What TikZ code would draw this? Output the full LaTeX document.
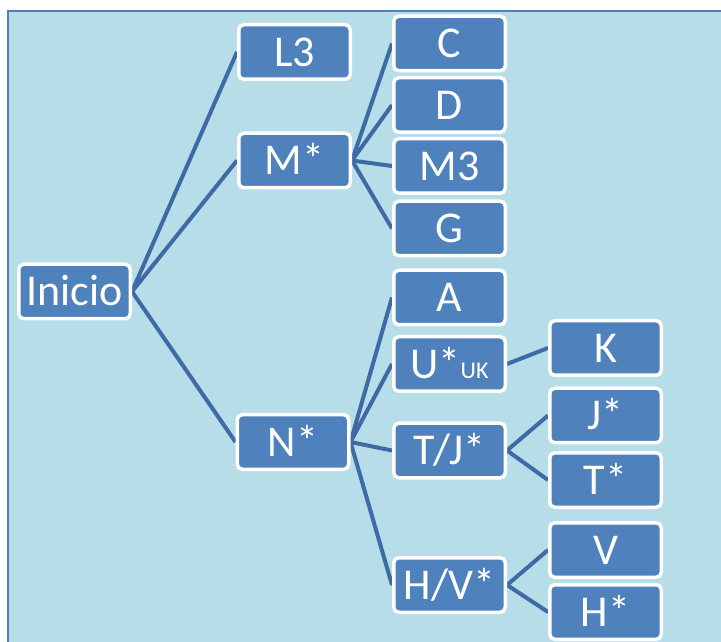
\documentclass[tikz,border=0pt]{standalone}
\usepackage{fontspec}
\setmainfont{Carlito}
\definecolor{bgc}{RGB}{183,221,232}
\definecolor{boxc}{RGB}{79,129,189}
\definecolor{linec}{RGB}{62,106,166}
\pgfdeclarelayer{bglayer}
\pgfdeclarelayer{linelayer}
\pgfsetlayers{bglayer,linelayer,main}
\begin{document}
\begin{tikzpicture}[x=1pt,y=1pt,
  box/.style={draw=white, line width=3.5pt, fill=boxc, rounded corners=5pt,
    text=white, font=\fontsize{44}{50}\selectfont,
    minimum width=111.5pt, minimum height=54.5pt, inner sep=0pt,
    text height=28.3pt, text depth=0pt},
  conn/.style={draw=linec, line width=4pt}]
\useasboundingbox (0,0) rectangle (721,641);
\clip (0,0) rectangle (721,641);
\begin{pgfonlayer}{bglayer}
\draw[fill=bgc, draw=boxc, line width=2pt] (8,-20) rectangle (740,630);
\end{pgfonlayer}
\node[box] (ini) at (74.5,349.5) {Inicio};
\node[box] (l3) at (294.5,589) {L3};
\node[box] (m) at (294.5,480.5) {M*};
\node[box] (n) at (293,199) {N*};
\node[box] (c) at (449.5,597.5) {C};
\node[box] (d) at (449.5,536) {D};
\node[box] (m3) at (449.5,475) {M3};
\node[box] (g) at (449.5,412.5) {G};
\node[box] (a) at (449.5,343.5) {A};
\node[box] (u) at (449.5,277) {U*{\fontsize{24}{28}\selectfont UK}};
\node[box] (tj) at (449.5,190.5) {T/J*};
\node[box] (hv) at (449.5,56) {H/V*};
\node[box] (k) at (605.5,293) {K};
\node[box] (j) at (605.5,225.5) {J*};
\node[box] (t) at (605.5,161) {T*};
\node[box] (v) at (605.5,91) {V};
\node[box] (h) at (605.5,29) {H*};
\begin{pgfonlayer}{linelayer}
\draw[conn] (ini.east) -- (l3.west);
\draw[conn] (ini.east) -- (m.west);
\draw[conn] (ini.east) -- (n.west);
\draw[conn] (m.east) -- (c.west);
\draw[conn] (m.east) -- (d.west);
\draw[conn] (m.east) -- (m3.west);
\draw[conn] (m.east) -- (g.west);
\draw[conn] (n.east) -- (a.west);
\draw[conn] (n.east) -- (u.west);
\draw[conn] (n.east) -- (tj.west);
\draw[conn] (n.east) -- (hv.west);
\draw[conn] (u.east) -- (k.west);
\draw[conn] (tj.east) -- (j.west);
\draw[conn] (tj.east) -- (t.west);
\draw[conn] (hv.east) -- (v.west);
\draw[conn] (hv.east) -- (h.west);
\end{pgfonlayer}
\end{tikzpicture}
\end{document}
